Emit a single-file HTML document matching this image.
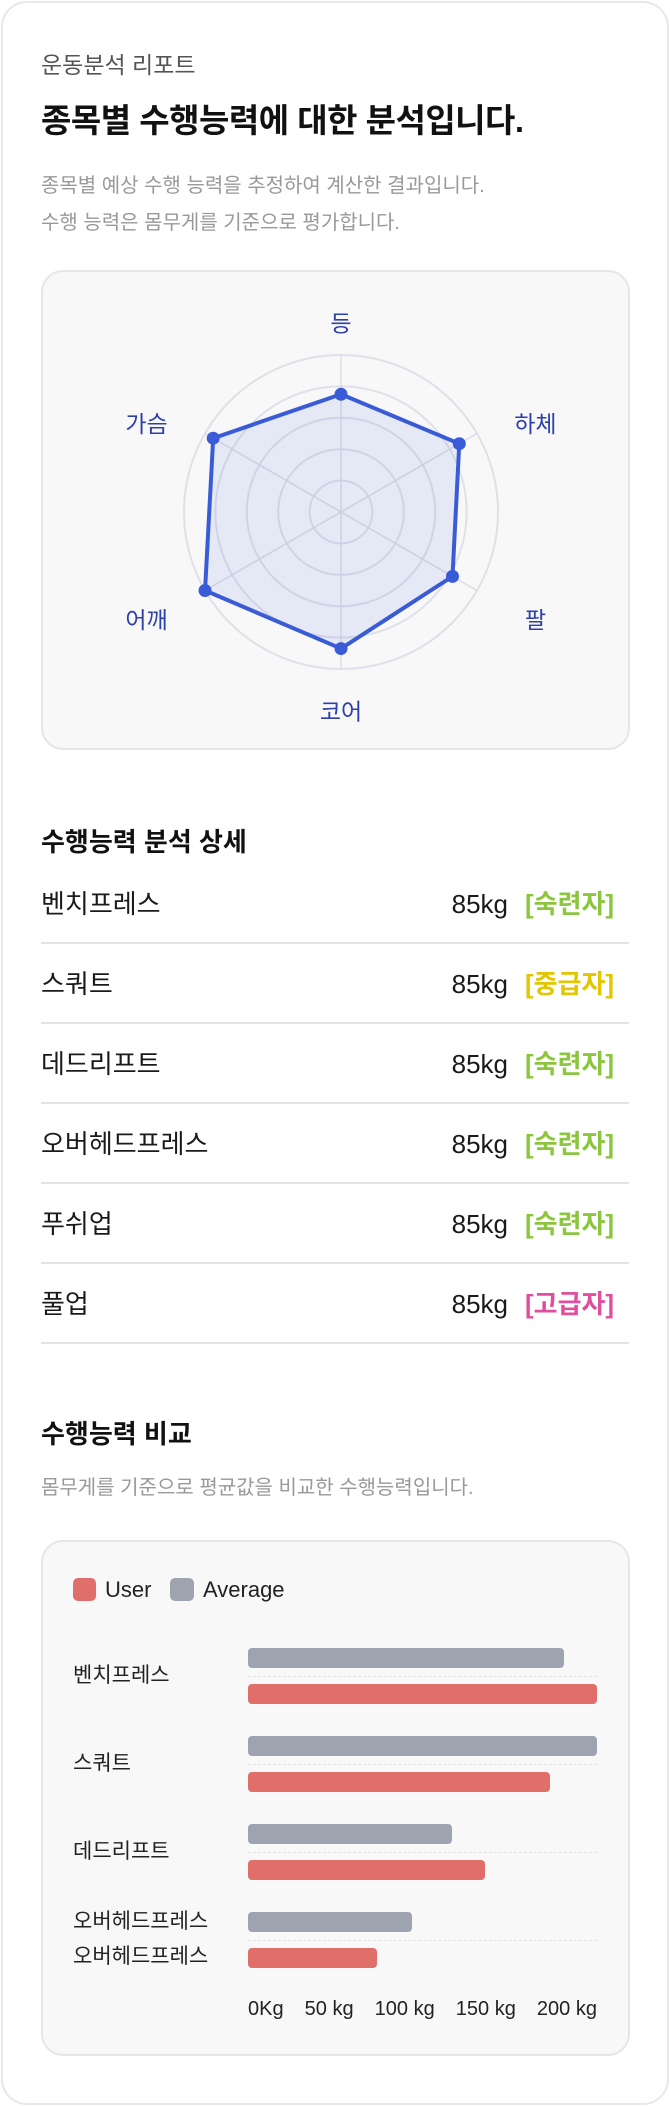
<!DOCTYPE html>
<html><head><meta charset="utf-8">
<style>
*{margin:0;padding:0;box-sizing:border-box}
body{width:670px;height:2106px;background:#fff;font-family:"Liberation Sans","Noto Sans CJK KR",sans-serif;position:relative;overflow:hidden}
.abs{position:absolute;white-space:nowrap}
#outer{position:absolute;left:1px;top:1px;width:668px;height:2104px;border:2px solid #e8e8ec;border-radius:26px}
.card{position:absolute;background:#f8f8f9;border:2px solid #e6e6ea;border-radius:22px}
.row{position:absolute;left:41px;width:588px;height:80px;border-bottom:2px solid #e3e3e6}
.row .nm{position:absolute;left:0;top:0;line-height:80px;font-size:26px;color:#1a1a1a}
.row .val{position:absolute;right:121px;top:0;line-height:80px;font-size:26px;color:#1a1a1a}
.row .tag{position:absolute;left:484px;top:0;line-height:80px;font-size:26px;font-weight:bold}
</style></head><body>
<div id="outer"></div>
<div class="abs" style="left:41px;top:50px;font-size:23px;color:#555;line-height:30px">운동분석 리포트</div>
<div class="abs" style="left:41px;top:100px;font-size:33px;font-weight:bold;color:#111;line-height:42px;letter-spacing:-0.5px">종목별 수행능력에 대한 분석입니다.</div>
<div class="abs" style="left:41px;top:168px;font-size:20px;color:#999;line-height:37px">종목별 예상 수행 능력을 추정하여 계산한 결과입니다.<br>수행 능력은 몸무게를 기준으로 평가합니다.</div>

<div class="card" style="left:41px;top:270px;width:589px;height:480px"></div>
<svg id="radar" class="abs" style="left:0;top:0" width="670" height="800"></svg>

<div class="abs" style="left:41px;top:824px;font-size:26px;font-weight:bold;color:#111;line-height:36px">수행능력 분석 상세</div>
<div id="rows"></div>

<div class="abs" style="left:41px;top:1416px;font-size:26px;font-weight:bold;color:#111;line-height:36px">수행능력 비교</div>
<div class="abs" style="left:41px;top:1474px;font-size:20px;color:#999;line-height:28px">몸무게를 기준으로 평균값을 비교한 수행능력입니다.</div>

<div class="card" style="left:41px;top:1540px;width:589px;height:516px"></div>
<div class="abs" style="left:73px;top:1578px;width:23px;height:23px;background:#e06e6a;border-radius:5px"></div>
<div class="abs" style="left:105px;top:1575px;font-size:22px;color:#222;line-height:30px">User</div>
<div class="abs" style="left:170px;top:1578px;width:24px;height:23px;background:#9ea3b0;border-radius:5px"></div>
<div class="abs" style="left:203px;top:1575px;font-size:22px;color:#222;line-height:30px">Average</div>
<div id="bars"></div>
<div id="ticks" class="abs" style="left:248px;top:1995px;width:349px;display:flex;justify-content:space-between;font-size:20px;color:#222;line-height:28px"></div>

<script>
// radar data
const radarLabels=['등','하체','팔','코어','어깨','가슴'];
const radarValues=[75,87,82,87,100,94];
const radarMax=100;
// detail rows
const rowNames=['벤치프레스','스쿼트','데드리프트','오버헤드프레스','푸쉬업','풀업'];
const rowValues=['85kg','85kg','85kg','85kg','85kg','85kg'];
const rowLevels=['[숙련자]','[중급자]','[숙련자]','[숙련자]','[숙련자]','[고급자]'];
// bar data
const barCategories=['벤치프레스','스쿼트','데드리프트','오버헤드프레스'];
const userValues=[200,173,136,74];
const averageValues=[181,200,117,94];
const tickLabels=['0Kg','50 kg','100 kg','150 kg','200 kg'];
const barMax=200;

const NS='http://www.w3.org/2000/svg';
const svg=document.getElementById('radar');
const cx=341,cy=512,R=157;
function mk(t,a){const e=document.createElementNS(NS,t);for(const k in a)e.setAttribute(k,a[k]);svg.appendChild(e);return e;}
function ang(i){return -Math.PI/2+i*Math.PI/3;}
function pt(i,v){const a=ang(i);const r=R*v/radarMax;return [cx+r*Math.cos(a),cy+r*Math.sin(a)];}
for(let k=1;k<=5;k++){const c=mk('circle',{cx:cx,cy:cy,r:R*k/5,fill:'none',stroke:'#e0e0e8','stroke-width':2});

}
for(let i=0;i<6;i++){const p=pt(i,radarMax);const l=mk('line',{x1:cx,y1:cy,x2:p[0],y2:p[1],stroke:'#dcdce2','stroke-width':1.5});

}
const pts=radarValues.map((v,i)=>pt(i,v));
const poly=mk('polygon',{points:pts.map(p=>p.join(',')).join(' '),fill:'rgba(64,96,220,0.10)',stroke:'#3a5bd6','stroke-width':4,'stroke-linejoin':'round'});


pts.forEach(p=>{const c=mk('circle',{cx:p[0],cy:p[1],r:6.5,fill:'#3a5bd6'});

});
const labelYOff=[0,6,14,0,14,6];
radarLabels.forEach((t,i)=>{const a=ang(i);const lx=cx+Math.cos(a)*R*1.43,ly=cy+Math.sin(a)*R*(i===3?1.27:1.2)+labelYOff[i];
const tx=mk('text',{x:lx,y:ly+8,'text-anchor':'middle','font-size':23,fill:'#2c40a8'});
tx.textContent=t;

});

const rows=document.getElementById('rows');
const lvlColor={'[숙련자]':'#8cc63f','[중급자]':'#e2c600','[고급자]':'#e04f9e'};
rowNames.forEach((n,i)=>{const d=document.createElement('div');d.className='row';d.style.top=(864+i*80)+'px';


d.innerHTML='<span class="nm">'+n+'</span><span class="val">'+rowValues[i]+'</span><span class="tag" style="color:'+lvlColor[rowLevels[i]]+'">'+rowLevels[i]+'</span>';
rows.appendChild(d);});

const bars=document.getElementById('bars');
const x0=248,W=349;
function xs(v){return W*v/barMax;}
barCategories.forEach((c,i)=>{const top=1648+i*88;
function bar(v,y,col,nm){const b=document.createElement('div');b.className='abs';
b.style.cssText='left:'+x0+'px;top:'+y+'px;height:20px;width:'+xs(v)+'px;background:'+col+';border-radius:4px';


bars.appendChild(b);}
bar(averageValues[i],top,'#9ea3b0','bar-average');
bar(userValues[i],top+36,'#e06e6a','bar-user');
const ln=document.createElement('div');ln.className='abs';
ln.style.cssText='left:'+x0+'px;top:'+(top+28)+'px;width:'+W+'px;border-top:1.5px dashed #e2e2e6';


bars.appendChild(ln);
const labs=i===3?[[c,top+10-16],[c,top+45-16]]:[[c,top+28-16]];
labs.forEach(l=>{const t=document.createElement('div');t.className='abs';
t.style.cssText='left:73px;top:'+l[1]+'px;font-size:21px;line-height:32px;color:#222';
t.textContent=l[0];


bars.appendChild(t);});
});
const ticks=document.getElementById('ticks');
tickLabels.forEach(t=>{const s=document.createElement('span');s.textContent=t;


ticks.appendChild(s);});
</script>
</body></html>
